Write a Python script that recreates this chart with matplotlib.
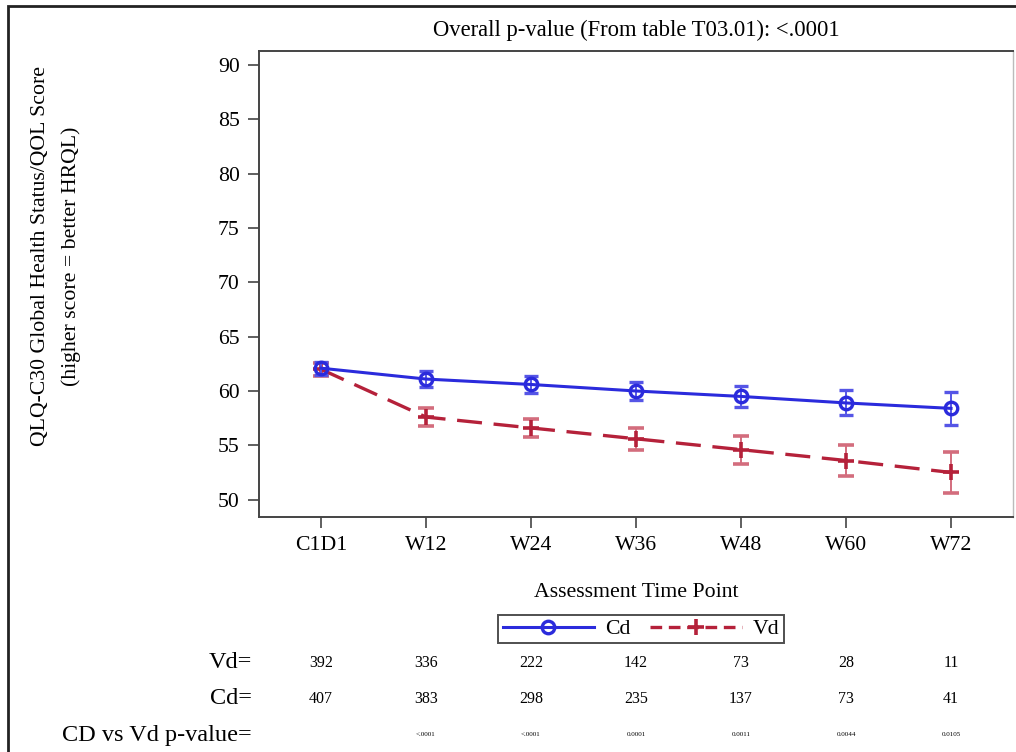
import matplotlib.pyplot as plt
from matplotlib.patches import Rectangle
from matplotlib.lines import Line2D
import numpy as np

plt.rcParams['font.family'] = ['Liberation Serif', 'DejaVu Serif']

visits = ['C1D1', 'W12', 'W24', 'W36', 'W48', 'W60', 'W72']
cd_mean = [62.1, 61.1, 60.6, 60.0, 59.5, 58.9, 58.4]
cd_err = [0.6, 0.7, 0.75, 0.85, 1.0, 1.15, 1.5]
vd_mean = [62.0, 57.6, 56.6, 55.6, 54.6, 53.6, 52.5]
vd_err = [0.6, 0.8, 0.85, 1.0, 1.3, 1.45, 1.85]
vd_n = ['392', '336', '222', '142', '73', '28', '11']
cd_n = ['407', '383', '298', '235', '137', '73', '41']
pvals = ['', '<.0001', '<.0001', '0.0001', '0.0011', '0.0044', '0.0105']

blue = '#2b2bdc'
red = '#b5213a'
x = np.arange(len(visits))
fs = 15.7

fig = plt.figure(figsize=(10.16, 7.52), dpi=100)
ax = fig.add_axes([259 / 1016, 1 - 517 / 752, (1013 - 259) / 1016, (517 - 51) / 752])

ax.errorbar(x, cd_mean, yerr=cd_err, color=blue, lw=2.2, marker='o', ms=9,
            mfc='none', mew=2.4, ecolor='#5555e6', elinewidth=1.4, capsize=5, capthick=1.4, zorder=3)
ax.errorbar(x, vd_mean, yerr=vd_err, color=red, lw=2.4, ls=(0, (7.5, 3.5)), marker='+', ms=11,
            mew=2.6, ecolor='#d36d7d', elinewidth=1.4, capsize=6, capthick=1.4, zorder=2)

ax.set_xlim(-0.59, 6.59)
ax.set_ylim(48.4, 91.3)
ax.set_yticks(range(50, 91, 5))
ax.set_xticks(x)
ax.set_xticklabels(visits)
ax.tick_params(labelsize=fs, length=8, width=1.2, color='#444444', pad=6)
for s in ['left', 'bottom', 'top']:
    ax.spines[s].set_color('#444444')
    ax.spines[s].set_linewidth(1.4)
ax.spines['right'].set_color('#bbbbbb')
ax.spines['right'].set_linewidth(1.0)

ax.set_xlabel('Assessment Time Point', fontsize=fs, labelpad=20)
ax.set_title('Overall p-value (From table T03.01): <.0001', fontsize=16.3, pad=11)
fig.text(56 / 1016, 1 - 256 / 752,
         'QLQ-C30 Global Health Status/QOL Score\n(higher score = better HRQL)',
         rotation=90, ha='center', va='center', fontsize=fs, linespacing=1.75,
         multialignment='center')

handles = [Line2D([], [], color=blue, lw=2.2, marker='o', ms=9, mfc='none', mew=2.4),
           Line2D([], [], color=red, lw=2.4, ls=(0, (3.5, 2)), marker='+', ms=11, mew=2.6)]
leg = fig.legend(handles, ['Cd', 'Vd'], loc='center', bbox_to_anchor=(641 / 1016, 1 - 629 / 752),
                 ncol=2, fontsize=fs, frameon=True, fancybox=False, edgecolor='#222222',
                 handlelength=4.2, columnspacing=0.9, handletextpad=0.5, borderpad=0.2)
leg.get_frame().set_linewidth(1.4)

# risk table below the axes
rows = [('Vd=', vd_n, 663, 11.5), ('Cd=', cd_n, 699, 11.5), ('CD vs Vd p-value=', pvals, 735, 5)]
for label, vals, ypix, vfs in rows:
    yf = 1 - ypix / 752
    fig.text(252 / 1016, yf, label, ha='right', va='center', fontsize=17.5)
    for xi, v in zip(x, vals):
        xd = ax.transData.transform((xi, 0))[0]
        xf = fig.transFigure.inverted().transform((xd, 0))[0]
        fig.text(xf, yf, v, ha='center', va='center', fontsize=vfs)

fig.patches.append(Rectangle((8 / 1016, -0.05), 1.2, 1 - 6 / 752 + 0.05, transform=fig.transFigure,
                             fill=False, edgecolor='#222222', lw=2.0))

fig.savefig('out.png', dpi=100)
